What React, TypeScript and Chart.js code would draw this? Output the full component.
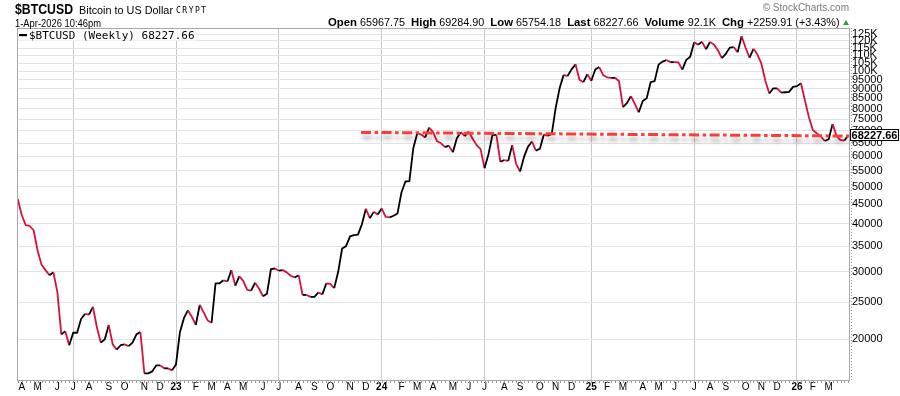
import React, { useEffect, useRef } from 'react';
import { Chart, registerables } from 'chart.js';

Chart.register(...registerables);

// ---------- text ----------
const SYMBOL = '$BTCUSD';
const NAME = 'Bitcoin to US Dollar';
const EXCHANGE = 'CRYPT';
const STAMP = '1-Apr-2026 10:46pm';
const COPYRIGHT = '\u00A9 StockCharts.com';
const STAT_LABELS = ['Open', 'High', 'Low', 'Last', 'Volume', 'Chg'];
const STAT_VALUES = ['65967.75', '69284.90', '65754.18', '68227.66', '92.1K', '+2259.91 (+3.43%)'];
const LEGEND_TEXT = '$BTCUSD (Weekly) 68227.66';
const LAST_LABEL = '68227.66';

// ---------- dates / ticks ----------
const FIRST_WEEK_MONDAY = '2022-03-28';
const CHART_DATE = '2026-04-01';
const MONTH_LETTERS = ['J', 'F', 'M', 'A', 'M', 'J', 'J', 'A', 'S', 'O', 'N', 'D'];
const Y_TICKS = [
  20000, 25000, 30000, 35000, 40000, 45000, 50000, 55000, 60000, 65000, 70000,
  75000, 80000, 85000, 90000, 95000, 100000, 105000, 110000, 115000, 120000, 125000,
];
const Y_MIN = 15663;
const Y_MAX = 129730;
const X_MIN = -0.2;
const X_MAX = 210.4;

// ---------- series: weekly closes (USD) ----------
const WEEKLY_CLOSE = [
  46400, 42200, 39700, 39500, 38500, 34100, 31300, 30300, 29400, 29900,
  26600, 20600, 21000, 19300, 20800, 20800, 22600, 23300, 23200, 24300,
  21500, 19600, 20000, 21800, 19400, 18800, 19300, 19400, 19200, 19600,
  20600, 20900, 16300, 16300, 16500, 17100, 17100, 16800, 16800, 16600,
  17200, 20900, 22700, 23800, 22900, 21800, 24600, 23500, 22400, 22100,
  28000, 28000, 28500, 28300, 30300, 27600, 29200, 28400, 26900, 26800,
  28100, 27100, 25900, 26300, 30500, 30600, 30200, 30300, 29900, 29300,
  29000, 29400, 26100, 26100, 25800, 25800, 26500, 26200, 28000, 27900,
  27200, 30000, 34500, 35000, 37100, 37400, 37500, 39900, 43800, 41400,
  43000, 42300, 43900, 41700, 41600, 42000, 42600, 48300, 51600, 51700,
  63100, 68900, 68400, 67200, 71300, 69400, 65700, 64900, 63400, 64000,
  61500, 66900, 69400, 67800, 69600, 66700, 64200, 62700, 55900, 60800,
  68200, 68300, 58100, 58700, 58400, 64200, 57300, 54800, 59900, 63600,
  65600, 62100, 62800, 68400, 67900, 68700, 80400, 90500, 97900, 97200,
  101200, 104300, 95100, 93700, 98300, 94500, 101100, 102600, 97700, 96500,
  96100, 96200, 94200, 80700, 82600, 86100, 82300, 78200, 83700, 85100,
  93700, 94300, 104100, 106000, 107000, 105700, 105700, 105500, 101000, 107100,
  109200, 119100, 117300, 119400, 114200, 119300, 117400, 113500, 108200, 111100,
  115300, 115700, 112100, 123500, 115200, 108600, 114500, 110600, 104700, 94500,
  87500, 90300, 90300, 88000, 88200, 88400, 91100, 91500, 93100, 84000,
  76000, 70300, 68900, 67700, 65800, 66500, 72900, 67800, 66200, 65967.75,
  68227.66,
];

// ---------- trend line (week index, price) ----------
const TREND_X = [86.8, 210.4];
const TREND_Y = [69300, 67800];

const SANS = '"Liberation Sans", Arial, sans-serif';
const MONO = '"DejaVu Sans Mono", "Liberation Mono", monospace';
const RED = '#d8103c';
const BLACK = '#000000';

export default function App() {
  const ref = useRef<HTMLCanvasElement | null>(null);

  useEffect(() => {
    const canvas = ref.current;
    if (!canvas) return;
    const N = WEEKLY_CLOSE.length;
    const DAY = 86400000;
    const start = Date.parse(FIRST_WEEK_MONDAY + 'T00:00:00Z');
    const chartDate = Date.parse(CHART_DATE + 'T00:00:00Z');

    type MT = { i: number; label: string; year: boolean; grid: boolean };
    const monthTicks: MT[] = [];
    for (let i = 1; i < N; i++) {
      const a = new Date(start + (i - 1) * 7 * DAY);
      const b = new Date(start + i * 7 * DAY);
      if (b.getTime() > chartDate) break;
      if (a.getUTCMonth() !== b.getUTCMonth()) {
        const m = b.getUTCMonth();
        monthTicks.push({
          i,
          label: m === 0 ? String(b.getUTCFullYear() % 100).padStart(2, '0') : MONTH_LETTERS[m],
          year: m === 0,
          grid: m === 0 || m === 6,
        });
      }
    }
    const tickMap = new Map<number, MT>(monthTicks.map((t) => [t.i, t]));

    const bgPlugin = {
      id: 'bg',
      beforeDraw(chart: any) {
        const c = chart.ctx;
        c.save();
        c.fillStyle = '#ffffff';
        c.fillRect(0, 0, chart.width, chart.height);
        c.restore();
      },
    };

    const shadowPlugin = {
      id: 'trendShadow',
      beforeDatasetDraw(chart: any, args: any) {
        if (args.index !== 1) return;
        const c = chart.ctx;
        c.save();
        c.shadowColor = 'rgba(0,0,0,0.32)';
        c.shadowBlur = 4;
        c.shadowOffsetX = 1;
        c.shadowOffsetY = 5;
      },
      afterDatasetDraw(chart: any, args: any) {
        if (args.index !== 1) return;
        chart.ctx.restore();
      },
    };

    const overlayPlugin = {
      id: 'overlay',
      afterDraw(chart: any) {
        const c = chart.ctx as CanvasRenderingContext2D;
        const area = chart.chartArea;
        const xs = chart.scales.x;
        const ys = chart.scales.y;
        c.save();
        // plot frame
        c.strokeStyle = '#a8a8a8';
        c.lineWidth = 1;
        c.strokeRect(Math.round(area.left) + 0.5, Math.round(area.top) + 0.5,
          Math.round(area.right - area.left) - 1, Math.round(area.bottom - area.top));
        // weekly tick dots below axis
        c.fillStyle = '#9a9a9a';
        for (let i = 0; i < N; i++) {
          const x = Math.round(xs.getPixelForValue(i));
          c.fillRect(x, Math.round(area.bottom) + 1, 1, 2);
        }
        // dotted right axis
        for (let y = Math.round(area.top); y < area.bottom; y += 3) {
          c.fillRect(Math.round(area.right) + 1, y, 1, 1);
        }
        // legend
        c.fillStyle = '#ffffff';
        c.fillRect(area.left + 1, area.top + 1, 179, 11.5);
        c.fillStyle = '#000';
        c.fillRect(area.left + 2, area.top + 6, 8, 2.2);
        c.font = `11px ${MONO}`;
        c.textBaseline = 'alphabetic';
        c.textAlign = 'left';
        c.fillText(LEGEND_TEXT, area.left + 12, area.top + 11.3);
        // last value box
        const lastV = WEEKLY_CLOSE[N - 1];
        const py = Math.round(ys.getPixelForValue(lastV));
        c.fillStyle = '#ffffff';
        c.fillRect(area.right, py - 6, 49, 12);
        c.strokeStyle = '#000';
        c.strokeRect(area.right + 0.5, py - 5.5, 48, 11);
        c.fillStyle = '#000';
        c.font = `bold 11px ${SANS}`;
        c.textAlign = 'center';
        c.textBaseline = 'middle';
        c.fillText(LAST_LABEL, area.right + 24.5, py + 0.5, 46);

        // header
        c.textAlign = 'left';
        c.textBaseline = 'alphabetic';
        c.fillStyle = '#000';
        c.font = `bold 14px ${SANS}`;
        c.fillText(SYMBOL, 15, 13.5, 58);
        c.font = `11px ${SANS}`;
        c.fillText(NAME, 79, 13.5, 94);
        c.font = `8px ${MONO}`;
        (c as any).letterSpacing = '1.5px';
        c.fillText(EXCHANGE, 176, 12.5, 33);
        (c as any).letterSpacing = '0px';
        c.font = `10px ${SANS}`;
        c.fillText(STAMP, 15, 27, 86);
        c.fillStyle = '#777';
        c.textAlign = 'right';
        c.fillText(COPYRIGHT, 849, 11, 97);

        // stats
        c.textAlign = 'left';
        c.fillStyle = '#000';
        const BOLD = `bold 10.5px ${SANS}`;
        const REG = `10px ${SANS}`;
        const parts: [string, string][] = [];
        STAT_LABELS.forEach((lab, k) => {
          parts.push([lab, BOLD]);
          parts.push([' ' + STAT_VALUES[k] + (k < STAT_LABELS.length - 1 ? '  ' : ''), REG]);
        });
        let total = 0;
        const widths = parts.map(([t, f]) => {
          c.font = f;
          const w = c.measureText(t).width;
          total += w;
          return w;
        });
        const x0 = 328;
        const x1 = 839.5;
        const s = (x1 - x0) / total;
        c.save();
        c.translate(x0, 26);
        c.scale(s, 1);
        let x = 0;
        parts.forEach(([t, f], k) => {
          c.font = f;
          c.fillText(t, x, 0);
          x += widths[k];
        });
        c.restore();
        c.fillStyle = '#2e9e38';
        c.beginPath();
        c.moveTo(843, 25);
        c.lineTo(849, 25);
        c.lineTo(846, 20);
        c.closePath();
        c.fill();
        c.restore();
      },
    };

    Chart.defaults.font.family = SANS;

    const chart = new Chart(canvas, {
      type: 'line',
      data: {
        datasets: [
          {
            data: WEEKLY_CLOSE.map((v, i) => ({ x: i, y: v })),
            borderColor: BLACK,
            borderWidth: 1.8,
            pointRadius: 0,
            tension: 0,
            borderJoinStyle: 'round',
            order: 1,
            segment: {
              borderColor: (ctx: any) => (ctx.p1.parsed.y < ctx.p0.parsed.y ? RED : BLACK),
            },
          } as any,
          {
            data: TREND_X.map((x, k) => ({ x, y: TREND_Y[k] })),
            borderColor: '#ff3a3a',
            borderWidth: 3,
            borderDash: [10, 3.5, 3.5, 3.5],
            pointRadius: 0,
            tension: 0,
            order: 0,
          } as any,
        ],
      },
      options: {
        animation: false,
        responsive: false,
        maintainAspectRatio: false,
        devicePixelRatio: 1,
        events: [],
        layout: { padding: { left: 17, top: 28, right: 0, bottom: 0 }, autoPadding: false } as any,
        plugins: { legend: { display: false }, tooltip: { enabled: false } },
        scales: {
          x: {
            type: 'linear',
            min: X_MIN,
            max: X_MAX,
            bounds: 'data',
            position: 'bottom',
            border: { display: false },
            grid: {
              drawTicks: false,
              color: (ctx: any) => {
                const t = ctx.tick && tickMap.get(ctx.tick.value);
                return t && t.grid ? '#c9c9c9' : 'rgba(0,0,0,0)';
              },
            },
            ticks: {
              autoSkip: false,
              maxRotation: 0,
              padding: 1,
              color: '#000',
              font: (ctx: any) => {
                const t = ctx.tick && tickMap.get(ctx.tick.value);
                return { family: SANS, size: 10, weight: t && t.year ? 'bold' : 'normal' } as any;
              },
              callback: (v: any) => {
                const t = tickMap.get(Number(v));
                return t ? t.label : '';
              },
            },
            afterBuildTicks: (s: any) => {
              s.ticks = monthTicks.map((t) => ({ value: t.i }));
            },
            afterFit: (s: any) => {
              s.height = 16;
            },
          } as any,
          y: {
            type: 'logarithmic',
            position: 'right',
            min: Y_MIN,
            max: Y_MAX,
            bounds: 'data',
            border: { display: false },
            grid: { drawTicks: false, color: '#e3e3e3' },
            ticks: {
              autoSkip: false,
              padding: 2,
              color: '#000',
              font: { family: SANS, size: 11 },
              callback: (v: any) => {
                const n = Number(v);
                return n >= 100000 ? `${n / 1000}K` : String(n);
              },
            },
            afterBuildTicks: (s: any) => {
              s.ticks = Y_TICKS.map((v) => ({ value: v }));
            },
            afterFit: (s: any) => {
              s.width = 50;
            },
          } as any,
        },
      },
      plugins: [bgPlugin, shadowPlugin, overlayPlugin],
    });

    return () => chart.destroy();
  }, []);

  return (
    <div style={{ position: 'absolute', left: 0, top: 0, width: 900, height: 396, background: '#fff' }}>
      <canvas ref={ref} width={900} height={396} style={{ display: 'block', width: 900, height: 396 }} />
    </div>
  );
}
